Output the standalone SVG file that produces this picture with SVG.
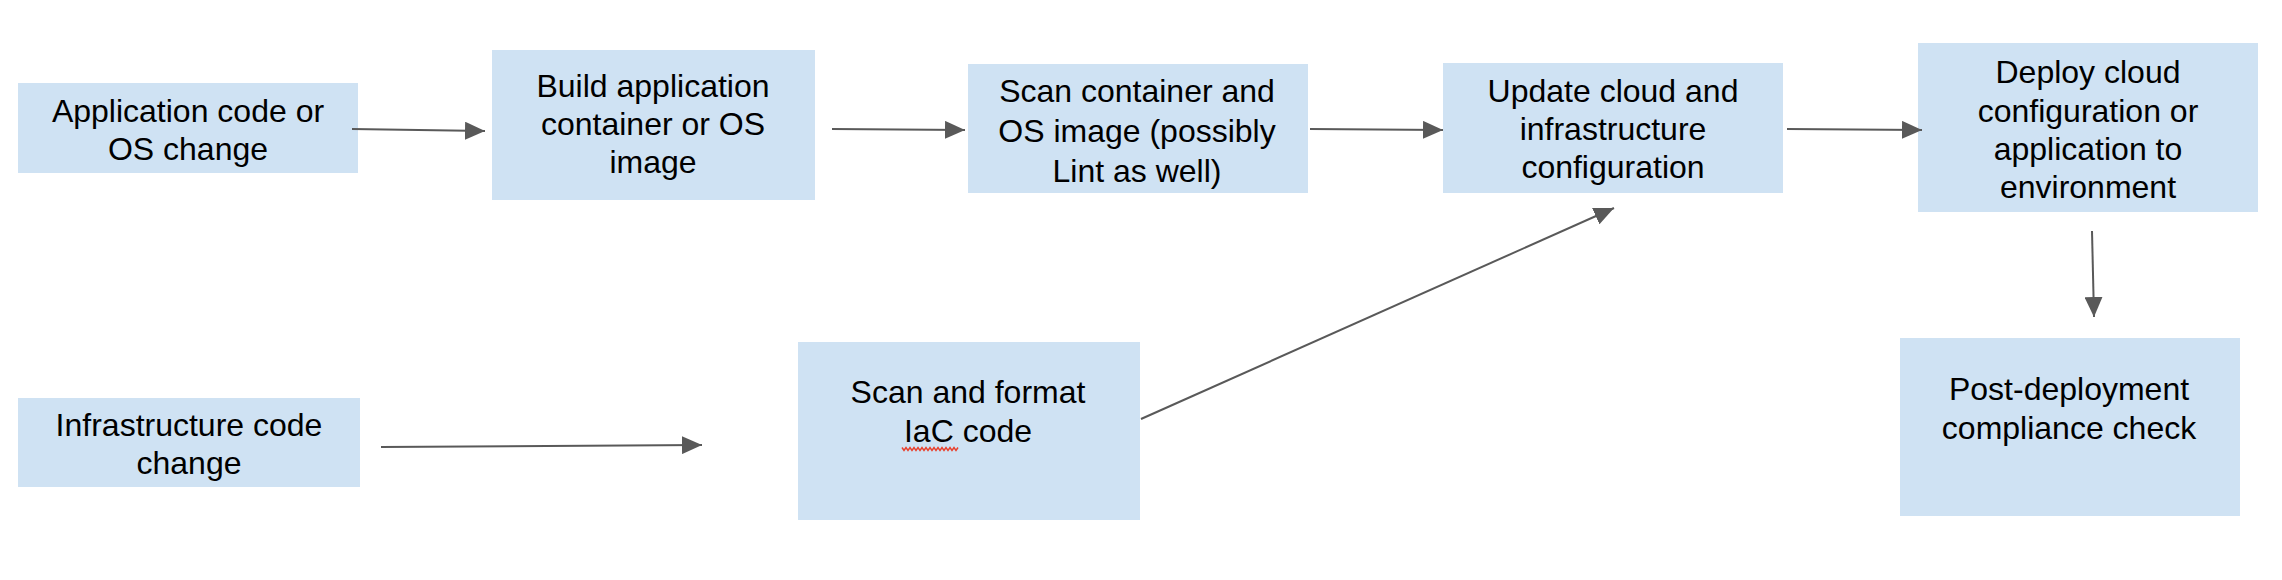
<svg xmlns="http://www.w3.org/2000/svg" width="2282" height="580" viewBox="0 0 2282 580">
<style>
.box{fill:#cfe2f3;stroke:none}
.t{font-family:"Liberation Sans",Arial,sans-serif;font-size:32px;fill:#000;text-anchor:middle}
.c{stroke:#595959;stroke-width:2;fill:none;marker-end:url(#ah)}
</style>
<defs>
<marker id="ah" markerUnits="userSpaceOnUse" markerWidth="20" markerHeight="18" refX="20" refY="9" orient="auto">
<path d="M0,0 L20,9 L0,18 z" fill="#595959"/>
</marker>
</defs>
<rect width="2282" height="580" fill="#fff"/>
<g id="n1"><rect class="box" x="18" y="83" width="340" height="90"/>
<text class="t"><tspan x="188" y="122">Application code or</tspan><tspan x="188" y="160">OS change</tspan></text></g>
<g id="n2"><rect class="box" x="492" y="50" width="323" height="150"/>
<text class="t"><tspan x="653" y="97">Build application</tspan><tspan x="653" y="135">container or OS</tspan><tspan x="653" y="173">image</tspan></text></g>
<g id="n3"><rect class="box" x="968" y="64" width="340" height="129"/>
<text class="t"><tspan x="1137" y="102">Scan container and</tspan><tspan x="1137" y="142">OS image (possibly</tspan><tspan x="1137" y="182">Lint as well)</tspan></text></g>
<g id="n4"><rect class="box" x="1443" y="63" width="340" height="130"/>
<text class="t"><tspan x="1613" y="102">Update cloud and</tspan><tspan x="1613" y="140">infrastructure</tspan><tspan x="1613" y="178">configuration</tspan></text></g>
<g id="n5"><rect class="box" x="1918" y="43" width="340" height="169"/>
<text class="t"><tspan x="2088" y="83">Deploy cloud</tspan><tspan x="2088" y="121.5">configuration or</tspan><tspan x="2088" y="159.5">application to</tspan><tspan x="2088" y="197.5">environment</tspan></text></g>
<g id="n6"><rect class="box" x="18" y="398" width="342" height="89"/>
<text class="t"><tspan x="189" y="436">Infrastructure code</tspan><tspan x="189" y="474">change</tspan></text></g>
<g id="n7"><rect class="box" x="798" y="342" width="342" height="178"/>
<text class="t"><tspan x="968" y="403">Scan and format</tspan><tspan x="968" y="442">IaC code</tspan></text>
<polyline points="902,447.5 904,450.5 906,447.5 908,450.5 910,447.5 912,450.5 914,447.5 916,450.5 918,447.5 920,450.5 922,447.5 924,450.5 926,447.5 928,450.5 930,447.5 932,450.5 934,447.5 936,450.5 938,447.5 940,450.5 942,447.5 944,450.5 946,447.5 948,450.5 950,447.5 952,450.5 954,447.5 956,450.5 958,447.5" fill="none" stroke="#e8402c" stroke-width="1.5"/></g>
<g id="n8"><rect class="box" x="1900" y="338" width="340" height="178"/>
<text class="t"><tspan x="2069" y="400">Post-deployment</tspan><tspan x="2069" y="439">compliance check</tspan></text></g>
<g id="connectors">
<line class="c" x1="352" y1="129" x2="485" y2="131"/>
<line class="c" x1="832" y1="129" x2="965" y2="130"/>
<line class="c" x1="1310" y1="129" x2="1443" y2="130"/>
<line class="c" x1="1787" y1="129" x2="1922" y2="130"/>
<line class="c" x1="2092" y1="231" x2="2094" y2="317"/>
<line class="c" x1="381" y1="447" x2="702" y2="445"/>
<line class="c" x1="1141" y1="419" x2="1614" y2="208"/>
</g>
</svg>
